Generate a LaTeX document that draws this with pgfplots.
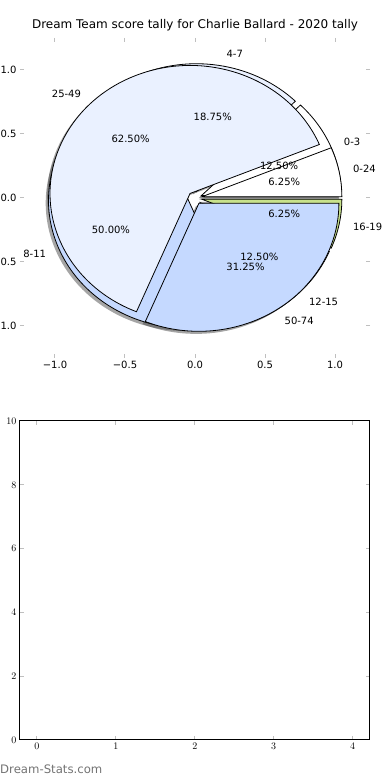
\documentclass[border=0pt]{standalone}
\usepackage{fontspec}
\setmainfont{DejaVu Sans}
\usepackage{pgfplots}
\pgfplotsset{compat=1.18}
\definecolor{cA}{HTML}{FFFFFF}
\definecolor{cB}{HTML}{EAF1FF}
\definecolor{cC}{HTML}{C5D9FF}
\definecolor{cD}{HTML}{DDE6F5}
\definecolor{cE}{HTML}{C8E28C}
\tikzset{lbl/.style={font=\fontsize{10}{12}\selectfont, inner sep=0pt}}
% pie unit: 140pt per x unit, 128pt per y unit (set by axis size)
\newcommand\explode{0.05}
\newcommand\sliceshadow[2]{%
  \pgfmathsetmacro\m{(#1+#2)/2}%
  \pgfmathsetmacro\cx{\explode*cos(\m)-0.02}%
  \pgfmathsetmacro\cy{\explode*sin(\m)-0.02}%
  \pgfmathsetmacro\ax{\cx+cos(#1)}%
  \pgfmathsetmacro\ay{\cy+sin(#1)}%
  \edef\temp{\noexpand\fill[black!70,fill opacity=0.5] (axis cs:\cx,\cy) -- (axis cs:\ax,\ay) arc[start angle=#1,end angle=#2,x radius=140pt,y radius=128pt] -- cycle;}%
  \temp}
\newcommand\slicefill[3]{%
  \pgfmathsetmacro\m{(#1+#2)/2}%
  \pgfmathsetmacro\cx{\explode*cos(\m)}%
  \pgfmathsetmacro\cy{\explode*sin(\m)}%
  \pgfmathsetmacro\ax{\cx+cos(#1)}%
  \pgfmathsetmacro\ay{\cy+sin(#1)}%
  \edef\temp{\noexpand\filldraw[fill=#3,draw=black,line width=0.8pt,line join=miter] (axis cs:\cx,\cy) -- (axis cs:\ax,\ay) arc[start angle=#1,end angle=#2,x radius=140pt,y radius=128pt] -- cycle;}%
  \temp}
\newcommand\slicetext[5]{%
  \pgfmathsetmacro\m{(#1+#2)/2}%
  \pgfmathsetmacro\cx{\explode*cos(\m)}%
  \pgfmathsetmacro\cy{\explode*sin(\m)}%
  \pgfmathsetmacro\lx{\cx+1.1*cos(\m)}%
  \pgfmathsetmacro\ly{\cy+1.1*sin(\m)}%
  \pgfmathsetmacro\px{\cx+0.6*cos(\m)}%
  \pgfmathsetmacro\py{\cy+0.6*sin(\m)}%
  \edef\temp{\noexpand\node[lbl,anchor=#5] at (axis cs:\lx,\ly) {#3};
    \noexpand\node[lbl,anchor=center] at (axis cs:\px,\py) {#4};}%
  \temp}
\begin{document}
\begin{tikzpicture}
\begin{axis}[
  at={(20pt,422pt)}, anchor=south west, scale only axis,
  width=350pt, height=320pt,
  xmin=-1.25, xmax=1.25, ymin=-1.25, ymax=1.25,
  clip=false,
  axis line style={draw=none},
  tick align=inside, major tick length=4pt,
  tick style={black!25, line width=1pt},
  xtick={-1,-0.5,0,0.5,1}, ytick={-1,-0.5,0,0.5,1},
  xticklabels={−1.0,−0.5,0.0,0.5,1.0},
  yticklabels={−1.0,−0.5,0.0,0.5,1.0},
  ticklabel style={font=\fontsize{10}{12}\selectfont},
  title={Dream Team score tally for Charlie Ballard - 2020 tally},
  title style={font=\fontsize{12}{14}\selectfont, at={(0.5,1)}, anchor=base, yshift=3.5pt, inner sep=0pt},
]
% shadows (all, behind every wedge)
\sliceshadow{0}{45}
\sliceshadow{45}{112.5}
\sliceshadow{112.5}{292.5}
\sliceshadow{292.5}{337.5}
\sliceshadow{337.5}{360}
\sliceshadow{0}{22.5}
\sliceshadow{22.5}{247.5}
\sliceshadow{247.5}{360}
% score tally pie: 12.5, 18.75, 50, 12.5, 6.25 %
\slicefill{0}{45}{cA}
\slicefill{45}{112.5}{cB}
\slicefill{112.5}{292.5}{cC}
\slicefill{292.5}{337.5}{cD}
\slicefill{337.5}{360}{cE}
% second pie: 6.25, 62.5, 31.25 %
\slicefill{0}{22.5}{cA}
\slicefill{22.5}{247.5}{cB}
\slicefill{247.5}{360}{cC}
% labels
\slicetext{0}{45}{0-3}{12.50\%}{west}
\slicetext{45}{112.5}{4-7}{18.75\%}{west}
\slicetext{112.5}{292.5}{8-11}{50.00\%}{east}
\slicetext{292.5}{337.5}{12-15}{12.50\%}{west}
\slicetext{337.5}{360}{16-19}{6.25\%}{west}
\slicetext{0}{22.5}{0-24}{6.25\%}{west}
\slicetext{22.5}{247.5}{25-49}{62.50\%}{east}
\slicetext{247.5}{360}{50-74}{31.25\%}{west}
\end{axis}
\begin{axis}[
  at={(20pt,40pt)}, anchor=south west, scale only axis,
  width=350pt, height=319pt,
  xmin=-0.215, xmax=4.22, ymin=0, ymax=10,
  axis line style={black, line width=1pt},
  tick align=inside, major tick length=4pt,
  tick style={black!25, line width=1pt},
  xtick={0,1,2,3,4}, ytick={0,2,4,6,8,10},
  ticklabel style={font=\fontsize{10}{12}\selectfont},
]
\end{axis}
\node[anchor=base west, inner sep=0pt, font=\fontsize{11.7}{13}\selectfont, text=black!55] at (0pt,6pt) {Dream-Stats.com};
\pgfresetboundingbox
\path[use as bounding box] (0pt,0pt) rectangle (390pt,780pt);
\end{tikzpicture}
\end{document}
